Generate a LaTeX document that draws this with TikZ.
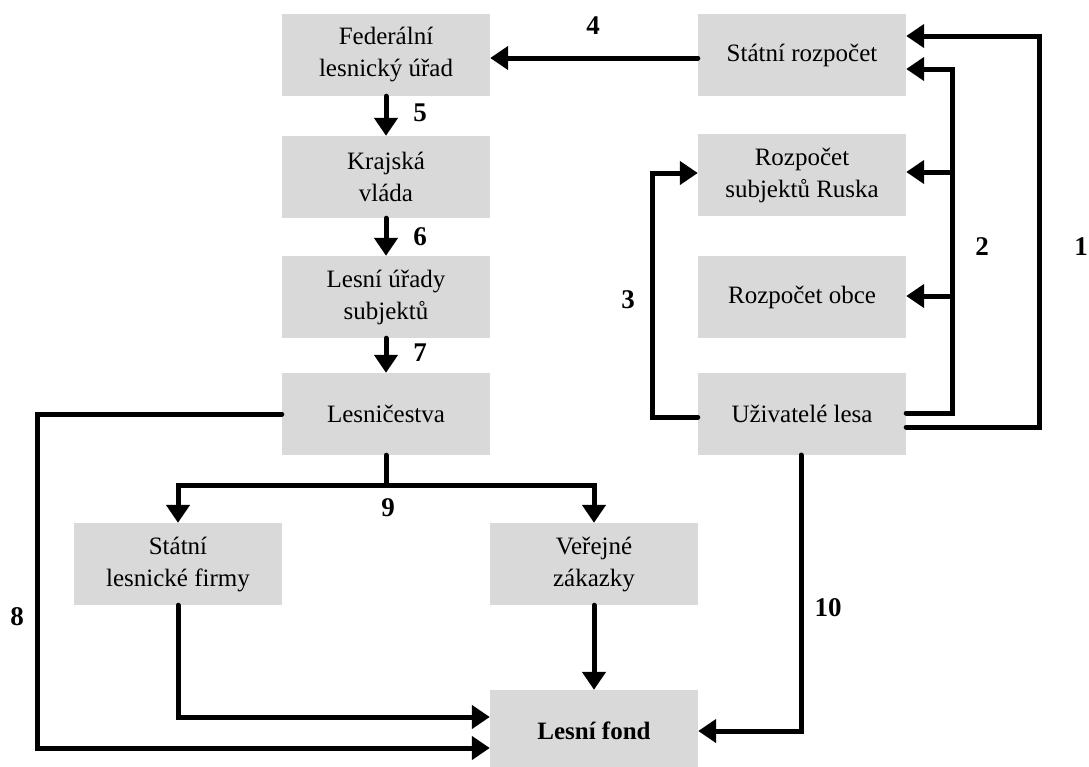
\documentclass[tikz,border=0pt]{standalone}
\usepackage{fontspec}
\setmainfont{Liberation Serif}
\newfontfamily\tnr{Liberation Serif}
\usetikzlibrary{arrows.meta}
\begin{document}
\begin{tikzpicture}[x=1pt,y=-1pt,
  box/.style={fill=boxgray, minimum width=208pt, minimum height=82pt, align=center, inner sep=0pt, font=\tnr\fontsize{25}{32}\selectfont},
  conn/.style={line width=5pt, line cap=round, -{Triangle[length=18pt,width=23pt]}},
  plain/.style={line width=5pt, line cap=round},
  num/.style={font=\tnr\fontsize{27}{30}\selectfont\bfseries}]
\definecolor{boxgray}{HTML}{D9D9D9}
\useasboundingbox (0,0) rectangle (1089,766);
\node[box] (fed) at (386,55) {Federální\\lesnický úřad};
\node[box] (sr) at (802,55) {Státní rozpočet};
\node[box] (kv) at (386,177) {Krajská\\vláda};
\node[box] (rsr) at (802,175) {Rozpočet\\subjektů Ruska};
\node[box] (lus) at (386,297) {Lesní úřady\\subjektů};
\node[box] (ro) at (802,297) {Rozpočet obce};
\node[box] (les) at (386,414) {Lesničestva};
\node[box] (ul) at (802,414) {Uživatelé lesa};
\node[box] (slf) at (178,564) {Státní\\lesnické firmy};
\node[box] (vz) at (594,564) {Veřejné\\zákazky};
\node[box] (lf) at (594,731) {\bfseries Lesní fond};
% connectors
\draw[conn] ([yshift=-3pt]sr.west) -- ([yshift=-3pt]fed.east);
\draw[conn] (fed.south) -- (kv.north);
\draw[conn] (kv.south) -- (lus.north);
\draw[conn] (lus.south) -- (les.north);
\coordinate (c1a) at (1039,427);
\coordinate (c1b) at (1039,36);
\draw[conn] ([yshift=-13pt]ul.east) -- (c1a) -- (c1b) -- ([yshift=19pt]sr.east);
\coordinate (c2a) at (952,413);
\coordinate (c2b) at (952,69);
\draw[conn] ([yshift=1pt]ul.east) -- (c2a) -- (c2b) -- ([yshift=-14pt]sr.east);
\coordinate (c2r) at (952,172);
\coordinate (c2o) at (952,296);
\draw[conn] (c2r) -- (c2r -| rsr.east);
\draw[conn] (c2o) -- (c2o -| ro.east);
\coordinate (c3a) at (652,417);
\coordinate (c3b) at (652,173);
\draw[conn] ([yshift=-3pt]ul.west) -- (c3a) -- (c3b) -- (c3b -| rsr.west);
\coordinate (c10) at (801,455);
\draw[conn] (c10) |- (lf.east);
\coordinate (c8a) at (37,414);
\coordinate (c8b) at (37,748);
\draw[conn] (les.west) -- (c8a) -- (c8b) -- (c8b -| lf.west);
\coordinate (cs) at (178,717);
\draw[conn] (slf.south) -- (cs) -- (cs -| lf.west);
\draw[conn] (vz.south) -- (lf.north);
\coordinate (c9) at (386,485);
\draw[plain] (les.south) -- (c9);
\draw[conn] (c9) -| (slf.north);
\draw[conn] (c9) -| (vz.north);
% labels
\node[num] (n4) at (593,26) {4};
\node[num] (n5) at (420,113) {5};
\node[num] (n6) at (420,237) {6};
\node[num] (n7) at (420,353) {7};
\node[num] (n9) at (388,508) {9};
\node[num] (n3) at (628,300) {3};
\node[num] (n2) at (982,247) {2};
\node[num] (n1) at (1081,247) {1};
\node[num] (n8) at (17,617) {8};
\node[num] (n10) at (828,608) {10};
\end{tikzpicture}
\end{document}
